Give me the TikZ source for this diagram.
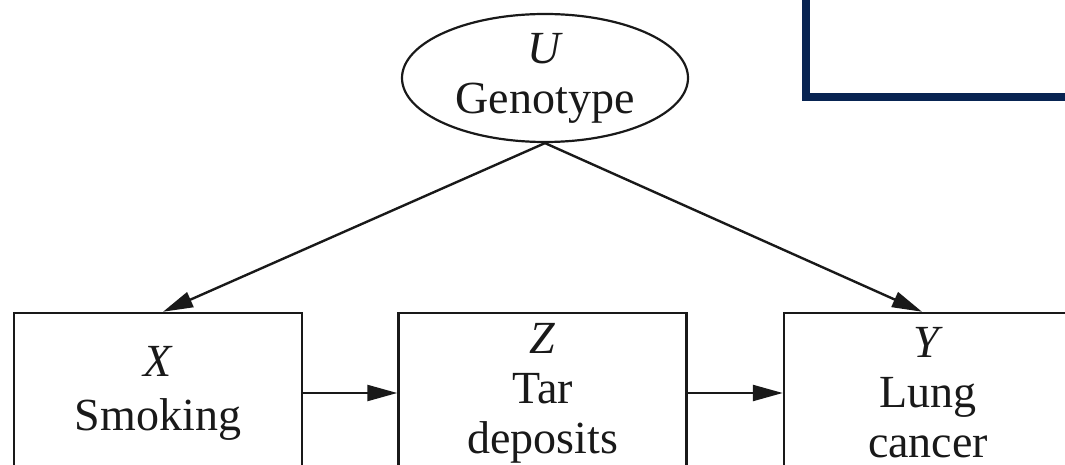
\documentclass[tikz,border=0pt]{standalone}
\usepackage{fontspec}
\setmainfont{Liberation Serif}
\usetikzlibrary{arrows.meta,shapes.geometric}
\definecolor{navy}{RGB}{8,36,82}
\definecolor{ink}{RGB}{25,25,25}
\begin{document}
\begin{tikzpicture}[x=0.5pt,y=-0.5pt,
  every node/.style={font=\fontsize{23}{25}\selectfont, text=ink},
  var/.style={draw=ink, line width=1.25pt, rectangle, minimum width=144pt,
    minimum height=80pt, align=center, inner sep=0pt},
  latent/.style={draw=ink, line width=1.1pt, ellipse, minimum width=143pt,
    minimum height=64pt, align=center, inner xsep=0pt, inner ysep=-1pt},
  edge/.style={draw=ink, line width=1.2pt,
    -{Triangle[length=15pt,width=8pt]}}]
\useasboundingbox (0,0) rectangle (1065,465);

% frame corner in the upper right
\draw[navy, line width=4pt] (806,-20) |- (1090,97);

% variables
\node[latent] (U) at (545,78) {\textit{U}\\Genotype};
\node[var] (X) at (158,393) {\textit{X}\\[2pt]Smoking};
\node[var] (Z) at (542.5,393) {\textit{Z}\\Tar\\deposits};
\node[var] (Y) at (928,393) {\textit{Y}\\Lung\\cancer};

% causal links
\draw[edge] (U.south) -- ([xshift=2.5pt]X.north);
\draw[edge] (U.south) -- ([xshift=-3pt]Y.north);
\draw[edge] (X) -- (Z);
\draw[edge] (Z) -- (Y);
\end{tikzpicture}
\end{document}
